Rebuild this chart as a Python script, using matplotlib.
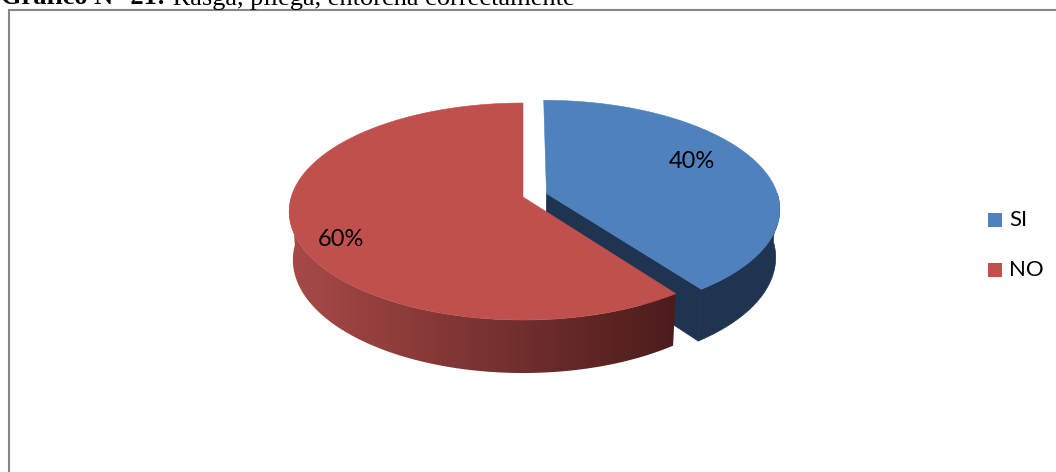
import numpy as np
import matplotlib
matplotlib.use("Agg")
import matplotlib.pyplot as plt
from matplotlib.patches import Polygon, Rectangle
from matplotlib.lines import Line2D
from matplotlib.colors import LinearSegmentedColormap

# ---- data ----
categories = ["SI", "NO"]
values = [40, 60]
top_colors = ["#4F81BD", "#C0504D"]
explode = [0.107, 0.0]
title_bold = "Gráfico N° 21:"
title_rest = " Rasga, pliega, entorcha correctamente"

# ---- layout ----
W, H = 1056, 472
fig = plt.figure(figsize=(W / 100, H / 100), dpi=100)
ax = fig.add_axes([0, 0, 1, 1])
ax.set_xlim(0, W)
ax.set_ylim(H, 0)
ax.axis("off")

# perspective camera for the 3-D pie
CX, CY = 523, 197
ELEV = np.radians(26.96)
DIST = 6.667
FOCAL_X = 1545
FOCAL_Y = 1567
DEPTH = 0.2325
CAM = np.array([0.0, -DIST * np.cos(ELEV)])  # camera position in the pie plane (X, Z)


def project(X, Y, Z):
    s, c = np.sin(ELEV), np.cos(ELEV)
    yc = Y * c + Z * s
    d = DIST + Z * c - Y * s
    return CX + FOCAL_X * X / d, CY - FOCAL_Y * yc / d


def rim(a_from, a_to, ox, oz, y, n=120):
    a = np.radians(np.linspace(a_from, a_to, n))
    sx, sy = project(ox + np.cos(a), np.full_like(a, y), oz + np.sin(a))
    return np.column_stack([sx, sy])


side_colors = ["#1F3451", None]
red_wall_cmap = LinearSegmentedColormap.from_list("wall", ["#A84A47", "#4C1C1C"])

# slices go clockwise from 12 o'clock
total = float(sum(values))
start = 90.0
slices = []
for i, v in enumerate(values):
    t1 = start
    t2 = start - 360.0 * v / total
    start = t2
    slices.append((i, t1, t2))

for i, t1, t2 in slices:
    mid = np.radians((t1 + t2) / 2)
    ox, oz = explode[i] * np.cos(mid), explode[i] * np.sin(mid)
    dark = side_colors[i] or "#6F2D2C"
    z = 2 + i * 3

    # radial cut faces that clearly face the camera
    for a, sign in ((t1, 1), (t2, -1)):
        ar = np.radians(a)
        nrm = np.array([-np.sin(ar), np.cos(ar)]) * sign
        p = np.array([ox + 0.5 * np.cos(ar), oz + 0.5 * np.sin(ar)])
        view = CAM - p
        if np.dot(view, nrm) / np.linalg.norm(view) > 0.05:
            X = np.array([ox, ox + np.cos(ar), ox + np.cos(ar), ox])
            Z = np.array([oz, oz + np.sin(ar), oz + np.sin(ar), oz])
            Y = np.array([0, 0, -DEPTH, -DEPTH])
            sx, sy = project(X, Y, Z)
            ax.add_patch(Polygon(np.column_stack([sx, sy]), closed=True,
                                 facecolor=dark, edgecolor=dark, lw=0.5, zorder=z))

    # outer wall, front-facing part only
    lo = max(t2, -180.0)
    hi = min(t1, 0.0)
    if hi > lo:
        top = rim(lo, hi, ox, oz, 0.0)
        bot = rim(hi, lo, ox, oz, -DEPTH)
        poly = np.vstack([top, bot])
        if side_colors[i]:
            ax.add_patch(Polygon(poly, closed=True, facecolor=dark,
                                 edgecolor=dark, lw=0.5, zorder=z))
        else:
            patch = Polygon(poly, closed=True, facecolor="none",
                            edgecolor="none", zorder=z)
            ax.add_patch(patch)
            x0, x1 = poly[:, 0].min(), poly[:, 0].max()
            y0, y1 = poly[:, 1].min(), poly[:, 1].max()
            grad = np.linspace(0, 1, 256)[None, :]
            im = ax.imshow(grad, cmap=red_wall_cmap, aspect="auto",
                           extent=[x0, x1, y1, y0], zorder=z,
                           interpolation="bilinear")
            im.set_clip_path(patch)

    # top face
    sx0, sy0 = project(np.array([ox]), np.array([0.0]), np.array([oz]))
    arc = rim(t1, t2, ox, oz, 0.0, n=240)
    poly = np.vstack([[sx0[0], sy0[0]], arc])
    ax.add_patch(Polygon(poly, closed=True, facecolor=top_colors[i],
                         edgecolor=top_colors[i], lw=0.4, zorder=z + 1))

ax.set_xlim(0, W)
ax.set_ylim(H, 0)

# percentage labels
label_pos = [(692, 162), (341, 240)]
for i, v in enumerate(values):
    ax.text(label_pos[i][0], label_pos[i][1], f"{v / total * 100:.0f}%",
            ha="center", va="center", fontsize=17, family="Lato",
            color="black", zorder=10)

# legend
legend_y = [220, 270]
for i, name in enumerate(categories):
    ax.add_patch(Rectangle((988, legend_y[i] - 7), 14, 14,
                           facecolor=top_colors[i], edgecolor="none", zorder=10))
    ax.text(1009, legend_y[i], name, ha="left", va="center",
            fontsize=16, family="Lato", color="black", zorder=10)

# chart frame (continues beyond the visible area)
ax.add_line(Line2D([8.5, 8.5, W + 5], [H + 5, 10, 10], color="#878787",
                   lw=1.5, zorder=11, solid_joinstyle="miter"))

# caption above the frame
BASE = 1 - 4.5 / H
t1 = fig.text(1 / W, BASE, title_bold, ha="left", va="baseline",
              fontsize=19, family="Liberation Serif", fontweight="bold")
fig.canvas.draw()
bb = t1.get_window_extent(fig.canvas.get_renderer())
fig.text(bb.x1 / W, BASE, title_rest, ha="left", va="baseline",
         fontsize=19, family="Liberation Serif")

fig.savefig("out.png", dpi=100)
